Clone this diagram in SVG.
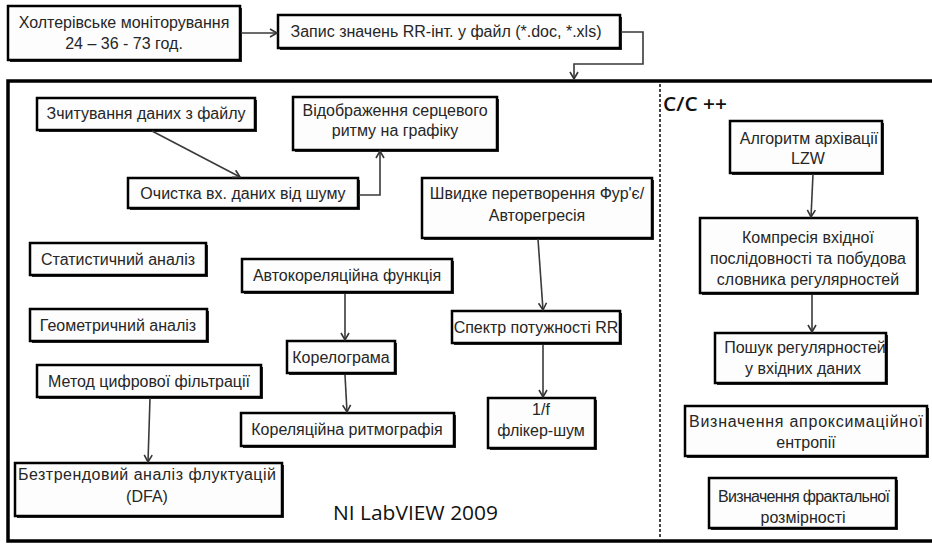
<svg xmlns="http://www.w3.org/2000/svg" width="932" height="544" viewBox="0 0 932 544">
<defs>
<marker id="ah" markerWidth="10" markerHeight="10" refX="8" refY="5" orient="auto" markerUnits="userSpaceOnUse">
<path d="M1,1 L8,5 L1,9" fill="none" stroke="#333" stroke-width="1.6"/>
</marker>
<style>
.sh{fill:#2a2a2a}
.bx{fill:#fdfdfd;stroke:#000;stroke-width:2.5}
.t{font-family:"Liberation Sans",Arial,sans-serif;font-size:16px;fill:#262626;text-anchor:middle}
.c{fill:none;stroke:#3a3a3a;stroke-width:1.6;marker-end:url(#ah)}
.big{font-family:"Open Sans","Noto Sans",sans-serif;fill:#111}
</style>
</defs>
<rect width="932" height="544" fill="#fff"/>
<g id="frame">
<rect x="8" y="81" width="940" height="460" fill="none" stroke="#000" stroke-width="3.5"/>
<line x1="660" y1="84" x2="660" y2="540" stroke="#444" stroke-width="2" stroke-dasharray="3 2"/>
<text class="big" x="663" y="111" font-size="20" font-weight="600" textLength="64" lengthAdjust="spacingAndGlyphs">C/C ++</text>
<text class="big" x="333" y="520" font-size="20" font-weight="500" textLength="165" lengthAdjust="spacingAndGlyphs">NI LabVIEW 2009</text>
</g>
<g id="n1"><rect class="sh" x="10" y="8" width="232" height="54"/><rect class="bx" x="8" y="6" width="232" height="54"/><text class="t" x="124" y="28">Холтерівське моніторування</text><text class="t" x="124" y="49">24 – 36 - 73 год.</text></g>
<g id="n2"><rect class="sh" x="280" y="17" width="342" height="33"/><rect class="bx" x="278" y="15" width="342" height="33"/><text class="t" x="446" y="37">Запис значень RR-інт. у файл (*.doc, *.xls)</text></g>
<g id="n3"><rect class="sh" x="39" y="100" width="218" height="32"/><rect class="bx" x="37" y="98" width="218" height="32"/><text class="t" x="146" y="119">Зчитування даних з файлу</text></g>
<g id="n4"><rect class="sh" x="295" y="99" width="204" height="53"/><rect class="bx" x="293" y="97" width="204" height="53"/><text class="t" x="395" y="116">Відображення серцевого</text><text class="t" x="395" y="136">ритму на графіку</text></g>
<g id="n5"><rect class="sh" x="130" y="180" width="230" height="30"/><rect class="bx" x="128" y="178" width="230" height="30"/><text class="t" x="243" y="199">Очистка вх. даних від шуму</text></g>
<g id="n6"><rect class="sh" x="424" y="180" width="230" height="60"/><rect class="bx" x="422" y="178" width="230" height="60"/><text class="t" x="537" y="199">Швидке перетворення Фур'є/</text><text class="t" x="537" y="221">Авторегресія</text></g>
<g id="n7"><rect class="sh" x="32" y="245" width="176" height="32"/><rect class="bx" x="30" y="243" width="176" height="32"/><text class="t" x="118" y="265">Статистичний аналіз</text></g>
<g id="n8"><rect class="sh" x="32" y="311" width="177" height="32"/><rect class="bx" x="30" y="309" width="177" height="32"/><text class="t" x="118" y="331">Геометричний аналіз</text></g>
<g id="n9"><rect class="sh" x="244" y="261" width="210" height="33"/><rect class="bx" x="242" y="259" width="210" height="33"/><text class="t" x="347" y="281">Автокореляційна функція</text></g>
<g id="n10"><rect class="sh" x="289" y="343" width="108" height="32"/><rect class="bx" x="287" y="341" width="108" height="32"/><text class="t" x="341" y="363">Корелограма</text></g>
<g id="n11"><rect class="sh" x="243" y="415" width="213" height="33"/><rect class="bx" x="241" y="413" width="213" height="33"/><text class="t" x="347" y="435">Кореляційна ритмографія</text></g>
<g id="n12"><rect class="sh" x="39" y="367" width="224" height="32"/><rect class="bx" x="37" y="365" width="224" height="32"/><text class="t" x="149" y="387">Метод цифрової фільтрації</text></g>
<g id="n13"><rect class="sh" x="17" y="465" width="267" height="53"/><rect class="bx" x="15" y="463" width="267" height="53"/><text class="t" x="147" y="480" textLength="258">Безтрендовий аналіз флуктуацій</text><text class="t" x="147" y="502">(DFA)</text></g>
<g id="n14"><rect class="sh" x="454" y="313" width="168" height="32"/><rect class="bx" x="452" y="311" width="168" height="32"/><text class="t" x="536" y="333">Спектр потужності RR</text></g>
<g id="n15"><rect class="sh" x="490" y="400" width="107" height="50"/><rect class="bx" x="488" y="398" width="107" height="50"/><text class="t" x="541" y="415">1/f</text><text class="t" x="541" y="436">флікер-шум</text></g>
<g id="n16"><rect class="sh" x="732" y="123" width="152" height="52"/><rect class="bx" x="730" y="121" width="152" height="52"/><text class="t" x="809" y="144">Алгоритм архівації</text><text class="t" x="808" y="164">LZW</text></g>
<g id="n17"><rect class="sh" x="702" y="220" width="217" height="75"/><rect class="bx" x="700" y="218" width="217" height="75"/><text class="t" x="808" y="243">Компресія вхідної</text><text class="t" x="808" y="264">послідовності та побудова</text><text class="t" x="808" y="285">словника регулярностей</text></g>
<g id="n18"><rect class="sh" x="717" y="335" width="171" height="50"/><rect class="bx" x="715" y="333" width="171" height="50"/><text class="t" x="805" y="353">Пошук регулярностей</text><text class="t" x="803" y="374">у вхідних даних</text></g>
<g id="n19"><rect class="sh" x="687" y="408" width="242" height="50"/><rect class="bx" x="685" y="406" width="242" height="50"/><text class="t" x="806" y="427" textLength="234">Визначення апроксимаційної</text><text class="t" x="806" y="448">ентропії</text></g>
<g id="n20"><rect class="sh" x="711" y="480" width="187" height="50"/><rect class="bx" x="709" y="478" width="187" height="50"/><text class="t" x="804" y="502" textLength="172">Визначення фрактальної</text><text class="t" x="803" y="523">розмірності</text></g>
<g id="connectors">
<path class="c" d="M241,33 L277,33"/>
<path class="c" d="M621,32 H643 V64 H574 V79"/>
<path class="c" d="M152,131 L240,177"/>
<path class="c" d="M359,195 H380 V151"/>
<path class="c" d="M345,294 L345,340"/>
<path class="c" d="M345,375 L347,412"/>
<path class="c" d="M150,398 L148,462"/>
<path class="c" d="M538,239 L543,310"/>
<path class="c" d="M543,345 L543,397"/>
<path class="c" d="M813,174 L811,217"/>
<path class="c" d="M812,295 L812,332"/>
</g>
</svg>
